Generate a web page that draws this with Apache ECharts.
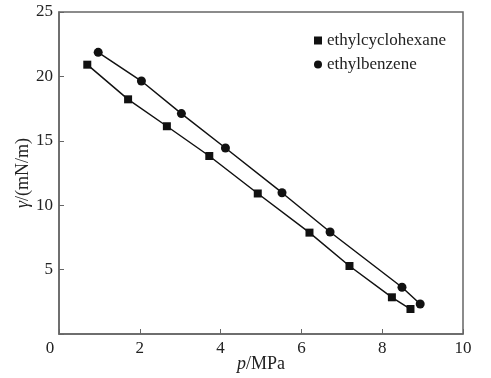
<!DOCTYPE html>
<html>
<head>
<meta charset="utf-8">
<script src="https://cdn.jsdelivr.net/npm/echarts@6/dist/echarts.min.js"></script>
<style>
  html, body { margin: 0; padding: 0; background: #fff; }
  #chart { width: 491px; height: 378px; }
</style>
</head>
<body>
<div id="chart"></div>
<script>
// ethylcyclohexane: pressure (MPa) / surface tension (mN/m)
const cyclohexP = [0.70, 1.71, 2.67, 3.72, 4.92, 6.20, 7.19, 8.24, 8.70]
const cyclohexGamma = [20.91, 18.22, 16.13, 13.82, 10.91, 7.87, 5.28, 2.85, 1.94]
// ethylbenzene
const benzeneP = [0.97, 2.04, 3.03, 4.12, 5.52, 6.71, 8.49, 8.94]
const benzeneGamma = [21.87, 19.64, 17.11, 14.44, 10.97, 7.92, 3.63, 2.33]

const xTicks = [0, 2, 4, 6, 8, 10]
const yTicks = [0, 5, 10, 15, 20, 25]

const font = '"Liberation Serif", "DejaVu Serif", serif'
const axisColor = '#666'
const textColor = '#222'

const pairs = (xs, ys) => xs.map((x, i) => [x, ys[i]])

const chart = echarts.init(document.getElementById('chart'))

chart.setOption({
  animation: false,
  grid: {
    left: 59, right: 28, top: 12, bottom: 44,
    outerBoundsMode: 'none',
    containLabel: false,
    show: true,
    borderColor: axisColor,
    borderWidth: 1.5
  },
  legend: {
    orient: 'vertical',
    left: 309,
    top: 27,
    itemWidth: 8,
    itemHeight: 8,
    itemGap: 7,
    textStyle: { fontFamily: font, fontSize: 17, color: textColor },
    data: [
      { name: 'ethylcyclohexane', icon: 'rect' },
      { name: 'ethylbenzene', icon: 'circle' }
    ]
  },
  xAxis: {
    type: 'value',
    min: xTicks[0],
    max: xTicks[xTicks.length - 1],
    interval: 2,
    name: '{i|p}/MPa',
    nameLocation: 'middle',
    nameMoveOverlap: false,
    nameGap: 21,
    nameTextStyle: {
      fontFamily: font, fontSize: 18, color: textColor, verticalAlign: 'top',
      rich: { i: { fontFamily: font, fontSize: 18, fontStyle: 'italic', color: textColor } }
    },
    axisLine: { lineStyle: { color: axisColor, width: 1.5 } },
    axisTick: { inside: true, length: 5, lineStyle: { color: axisColor } },
    axisLabel: {
      fontFamily: font, fontSize: 17, color: textColor, margin: 6,
      formatter: v => (v === 0 ? '{z|0}' : String(v)),
      rich: { z: { fontFamily: font, fontSize: 17, color: textColor, padding: [0, 18, 0, 0] } }
    },
    splitLine: { show: false }
  },
  yAxis: {
    type: 'value',
    min: yTicks[0],
    max: yTicks[yTicks.length - 1],
    interval: 5,
    name: '{i|γ}/(mN/m)',
    nameLocation: 'middle',
    nameMoveOverlap: false,
    nameGap: 27,
    nameTextStyle: {
      fontFamily: font, fontSize: 18, color: textColor,
      rich: { i: { fontFamily: font, fontSize: 18, fontStyle: 'italic', color: textColor } }
    },
    axisLine: { show: true, lineStyle: { color: axisColor, width: 1.5 } },
    axisTick: { show: true, inside: true, length: 5, lineStyle: { color: axisColor } },
    axisLabel: {
      fontFamily: font, fontSize: 17, color: textColor, margin: 6,
      formatter: v => (v === 0 ? '' : String(v))
    },
    splitLine: { show: false }
  },
  series: [
    {
      name: 'ethylcyclohexane',
      type: 'line',
      data: pairs(cyclohexP, cyclohexGamma),
      symbol: 'rect',
      symbolSize: 8,
      itemStyle: { color: '#111' },
      lineStyle: { color: '#111', width: 1.5 }
    },
    {
      name: 'ethylbenzene',
      type: 'line',
      data: pairs(benzeneP, benzeneGamma),
      symbol: 'circle',
      symbolSize: 9,
      itemStyle: { color: '#111' },
      lineStyle: { color: '#111', width: 1.5 }
    }
  ]
})
</script>
</body>
</html>
